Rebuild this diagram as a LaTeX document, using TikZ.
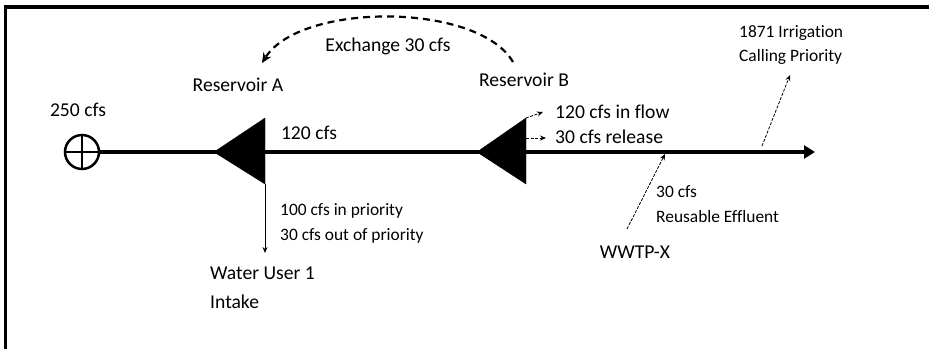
\documentclass[tikz,border=0pt]{standalone}
\usepackage{fontspec}
\setmainfont{Carlito}[Ligatures=NoCommon]
\usetikzlibrary{arrows.meta}
\begin{document}
\begin{tikzpicture}[x=1pt,y=-1pt,
  big/.style={font=\fontsize{19.6}{23}\selectfont, inner sep=0pt},
  small/.style={font=\fontsize{17.4}{21}\selectfont, inner sep=0pt},
  thinarrow/.style={line width=0.8pt, dash pattern=on 3pt off 1.5pt, -{Stealth[length=6pt,width=5pt]}},
  solidarrow/.style={line width=0.8pt, -{Stealth[length=6pt,width=5pt]}},
  reservoir/.style={fill=black, draw=black, line join=miter}
]
\useasboundingbox (0,0) rectangle (929,349);
% frame
\draw[line width=3.5pt] (5.5,349) -- (5.5,7) -- (929,7);

% gauge circle
\node[circle, draw, line width=2.5pt, minimum size=34pt, inner sep=0pt] (gauge) at (82,152) {};
\draw[line width=2pt] (gauge.west) -- (gauge.east);
\draw[line width=2pt] (gauge.north) -- (gauge.south);

% main river line
\coordinate (rivend) at (815,152);
\draw[line width=4.5pt, -{Triangle[length=11pt,width=13pt]}] (gauge.east) -- (rivend);

% reservoirs
\coordinate (Atip) at (214,152);
\coordinate (Atop) at (265,118);
\coordinate (Abot) at (265,184);
\fill[reservoir] (Atip) -- (Atop) -- (Abot) -- cycle;
\coordinate (Btip) at (477,152);
\coordinate (Btop) at (526,118);
\coordinate (Bbot) at (526,184);
\fill[reservoir] (Btip) -- (Btop) -- (Bbot) -- cycle;
\coordinate (Bmid) at (526,138);

% labels
\node[big] (q250) at (78,110) {250 cfs};
\node[big] (resA) at (238,85) {Reservoir A};
\node[big] (resB) at (524,80) {Reservoir B};
\node[big] (exch) at (388,46) {Exchange 30 cfs};
\node[big] (q120) at (309,133) {120 cfs};
\node[big, anchor=west] (inflow) at (555,112) {120 cfs in flow};
\node[big, anchor=west] (release) at (555,137) {30 cfs release};
\node[small, anchor=west] (inprio) at (280,211) {100 cfs in priority};
\node[small, anchor=west] (outprio) at (280,236) {30 cfs out of priority};
\node[big, anchor=west] (user) at (210,273) {Water User 1};
\node[big, anchor=west] (intake) at (210,302) {Intake};
\node[big] (wwtp) at (635,252) {WWTP-X};
\node[small, anchor=west] (eff30) at (656,192) {30 cfs};
\node[small, anchor=west] (reuse) at (656,217) {Reusable Effluent};
\node[small, anchor=west] (irr) at (739,33) {1871 Irrigation};
\node[small, anchor=west] (call) at (739,57) {Calling Priority};

% exchange arc
\coordinate (exStart) at (513,62);
\coordinate (exEnd) at (262,63);
\draw[line width=2.2pt, dash pattern=on 7pt off 5pt, -{Stealth[length=10pt,width=9pt]}]
  (exStart) .. controls (478,2) and (300,2) .. (exEnd);

% diversion to water user
\coordinate (userTop) at (265,253);
\draw[solidarrow] (Abot) -- (userTop);

% releases from reservoir B
\coordinate (inflowEnd) at (543,112);
\coordinate (releaseEnd) at (546,138);
\draw[thinarrow] (Btop) -- (inflowEnd);
\draw[thinarrow] (Bmid) -- (releaseEnd);

% effluent
\coordinate (wwtpTop) at (627,229);
\coordinate (effIn) at (665,154);
\draw[thinarrow] (wwtpTop) -- (effIn);

% calling priority
\coordinate (callBase) at (762,146);
\coordinate (callTip) at (790,75);
\draw[thinarrow] (callBase) -- (callTip);
\end{tikzpicture}
\end{document}
